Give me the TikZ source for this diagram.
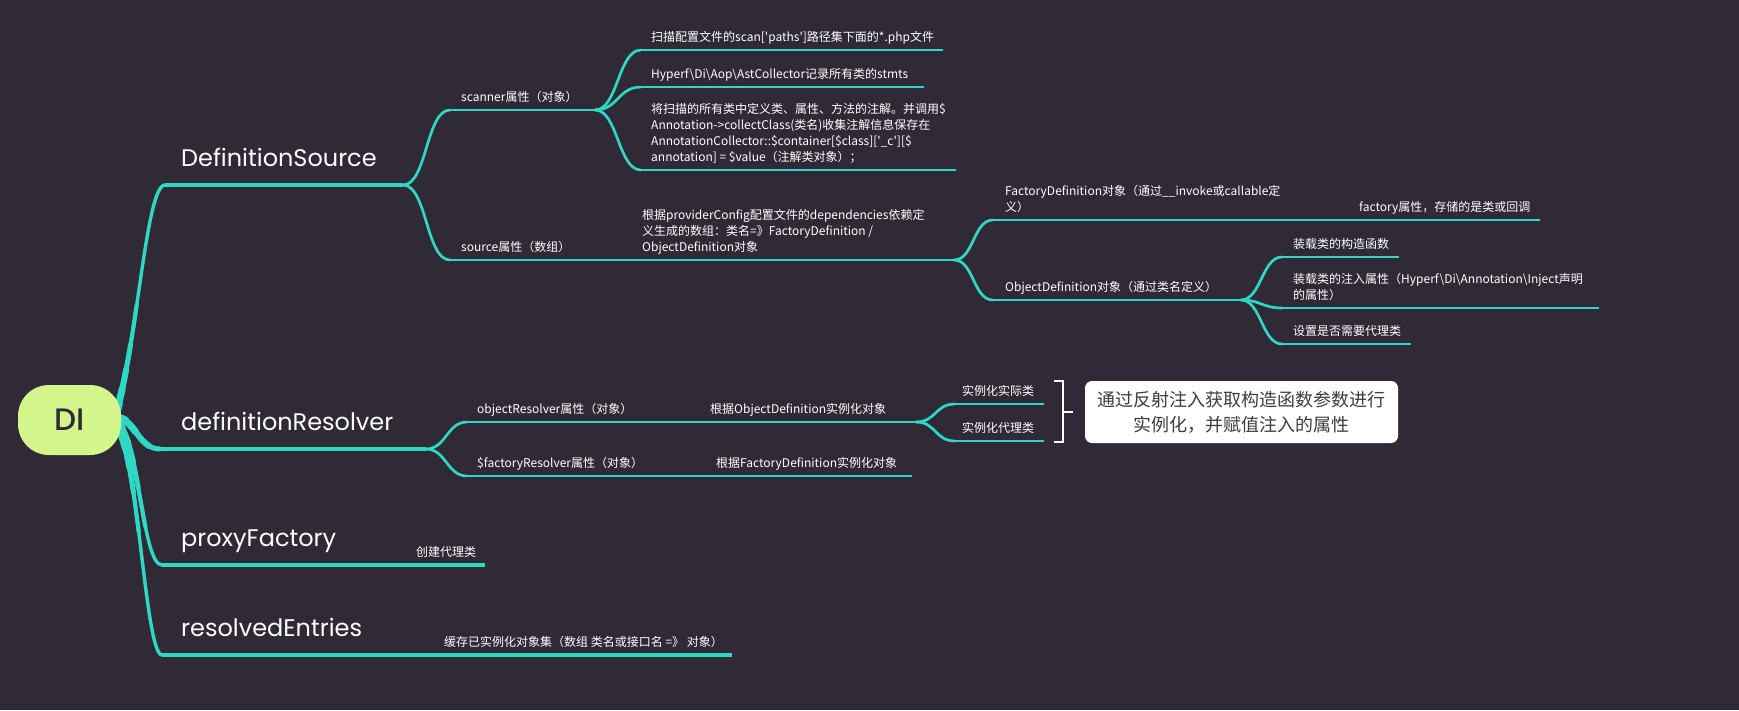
\documentclass[tikz,border=0pt]{standalone}
\usepackage{fontspec}
\newfontfamily\headfont{Poppins}
\newfontfamily\difont{Poppins Medium}
\newfontfamily\cjk{Noto Sans CJK SC}
\definecolor{bg}{HTML}{2F2A36}
\definecolor{teal}{HTML}{2ED8C4}
\definecolor{lime}{HTML}{D3F58B}
\definecolor{notetext}{HTML}{3C3C3C}
\newcommand{\bs}{\textbackslash{}}

\begin{document}
\begin{tikzpicture}[x=1pt,y=-1pt,
  lv1/.style={font=\headfont\fontsize{24}{28}\selectfont, text=white, anchor=base west, inner sep=0pt},
  lbl/.style={font=\cjk\fontsize{12}{16}\selectfont, text=white, anchor=south west, inner sep=0pt, align=left, text depth=2pt},
  rootbranch/.style={draw=teal, line width=3.4, line cap=round,
    postaction={draw=teal, line width=4.2, dash pattern=on 110 off 4000},
    postaction={draw=teal, line width=5, dash pattern=on 70 off 4000},
    postaction={draw=teal, line width=6, dash pattern=on 45 off 4000},
    postaction={draw=teal, line width=7, dash pattern=on 25 off 4000},
    postaction={draw=teal, line width=8.5, dash pattern=on 10 off 4000}},
  trunk/.style={draw=teal, line width=3.3},
  twig/.style={draw=teal, line width=2.7},
  fork/.style={draw=teal, line width=2.7},
]
% canvas
\fill[bg] (0,0) rectangle (1739,710);

% ---------- coordinates of the branch lines ----------
\coordinate (r1) at (116,413);
\coordinate (r2) at (116,418);
\coordinate (r3) at (116,422);
\coordinate (r4) at (116,425);

\coordinate (ds0) at (165,185);  \coordinate (ds1) at (403,185);
\coordinate (dr0) at (160,449);  \coordinate (dr1) at (426,449);
\coordinate (pf0) at (162,565);  \coordinate (pf1) at (405,565);
\coordinate (re0) at (162,655);  \coordinate (re1) at (435,655);

\coordinate (sc0) at (450,110);  \coordinate (sc1) at (595,110);
\coordinate (sa0) at (641,50);   \coordinate (sa1) at (943,50);
\coordinate (sb0) at (641,87);   \coordinate (sb1) at (924,87);
\coordinate (sx0) at (641,170);  \coordinate (sx1) at (956,170);

\coordinate (so0) at (450,260);  \coordinate (so1) at (630,260);
\coordinate (sd1) at (954,260);
\coordinate (fd0) at (993,220);  \coordinate (fd1) at (1345,220);
\coordinate (fa1) at (1540,220);
\coordinate (od0) at (993,300);  \coordinate (od1) at (1241,300);
\coordinate (oa0) at (1282,257); \coordinate (oa1) at (1399,257);
\coordinate (ob0) at (1282,308); \coordinate (ob1) at (1599,308);
\coordinate (oc0) at (1282,344); \coordinate (oc1) at (1411,344);

\coordinate (or0) at (467,422);  \coordinate (or1) at (648,422);
\coordinate (oi1) at (916,422);
\coordinate (ia0) at (955,404);  \coordinate (ia1) at (1044,404);
\coordinate (ib0) at (955,441);  \coordinate (ib1) at (1044,441);
\coordinate (fr0) at (467,476);  \coordinate (fr1) at (650,476);
\coordinate (fi1) at (912,476);

\coordinate (pc1) at (485,565);
\coordinate (rc1) at (732,655);

% ---------- main branches from the root ----------
\draw[rootbranch] (r1) .. controls (138,340) and (146,185) .. (ds0);
\draw[rootbranch] (r2) .. controls (135,418) and (138,449) .. (dr0);
\draw[rootbranch] (r3) .. controls (140,440) and (142,565) .. (pf0);
\draw[rootbranch] (r4) .. controls (138,450) and (145,655) .. (re0);

\draw[trunk] (ds0) -- (ds1);
\draw[trunk] (dr0) -- (dr1);
\draw[trunk] (pf0) -- (pf1);
\draw[trunk] (re0) -- (re1);

% ---------- DefinitionSource ----------
\draw[fork] (ds1) .. controls +(24,0) and +(-24,0) .. (sc0);
\draw[fork] (ds1) .. controls +(24,0) and +(-24,0) .. (so0);
\draw[twig] (sc0) -- (sc1);
\draw[fork] (sc1) .. controls +(23,0) and +(-23,0) .. (sa0);
\draw[fork] (sc1) .. controls +(23,0) and +(-23,0) .. (sb0);
\draw[fork] (sc1) .. controls +(23,0) and +(-23,0) .. (sx0);
\draw[twig] (sa0) -- (sa1);
\draw[twig] (sb0) -- (sb1);
\draw[twig] (sx0) -- (sx1);

\draw[twig] (so0) -- (so1);
\draw[twig] (so1) -- (sd1);
\draw[fork] (sd1) .. controls +(20,0) and +(-20,0) .. (fd0);
\draw[fork] (sd1) .. controls +(20,0) and +(-20,0) .. (od0);
\draw[twig] (fd0) -- (fd1);
\draw[twig] (fd1) -- (fa1);
\draw[twig] (od0) -- (od1);
\draw[fork] (od1) .. controls +(20,0) and +(-20,0) .. (oa0);
\draw[fork] (od1) .. controls +(20,0) and +(-20,0) .. (ob0);
\draw[fork] (od1) .. controls +(20,0) and +(-20,0) .. (oc0);
\draw[twig] (oa0) -- (oa1);
\draw[twig] (ob0) -- (ob1);
\draw[twig] (oc0) -- (oc1);

% ---------- definitionResolver ----------
\draw[fork] (dr1) .. controls +(20,0) and +(-20,0) .. (or0);
\draw[fork] (dr1) .. controls +(20,0) and +(-20,0) .. (fr0);
\draw[twig] (or0) -- (or1);
\draw[twig] (or1) -- (oi1);
\draw[fork] (oi1) .. controls +(20,0) and +(-20,0) .. (ia0);
\draw[fork] (oi1) .. controls +(20,0) and +(-20,0) .. (ib0);
\draw[twig] (ia0) -- (ia1);
\draw[twig] (ib0) -- (ib1);
\draw[twig] (fr0) -- (fr1);
\draw[twig] (fr1) -- (fi1);

% ---------- proxyFactory / resolvedEntries ----------
\draw[trunk] (pf1) -- (pc1);
\draw[trunk] (re1) -- (rc1);

% ---------- root node ----------
\node[fill=lime, rounded corners=31pt, minimum width=103pt, minimum height=70pt,
      font=\difont\fontsize{31}{34}\selectfont, text=bg] (di) at (69.5,420) {DI};

% ---------- first level labels ----------
\node[lv1] (ds) at (181,166) {DefinitionSource};
\node[lv1] (dr) at (181,430) {definitionResolver};
\node[lv1] (pf) at (181,546) {proxyFactory};
\node[lv1] (re) at (181,636) {resolvedEntries};

% ---------- labels ----------
\node[lbl] (scanner) at (461,103.5) {scanner属性（对象）};
\node[lbl] (scana) at (651,43.5) {扫描配置文件的scan['paths']路径集下面的*.php文件};
\node[lbl] (scanb) at (651,80.5) {Hyperf\bs Di\bs Aop\bs AstCollector记录所有类的stmts};
\node[lbl] (scanc) at (651,163.5) {将扫描的所有类中定义类、属性、方法的注解。并调用\$\\
Annotation->collectClass(类名)收集注解信息保存在\\
AnnotationCollector::\$container[\$class]['\_c'][\$\\
annotation] = \$value（注解类对象）；};

\node[lbl] (source) at (461,253.5) {source属性（数组）};
\node[lbl] (srcdesc) at (642,253.5) {根据providerConfig配置文件的dependencies依赖定\\
义生成的数组：类名=》FactoryDefinition /\\
ObjectDefinition对象};
\node[lbl] (factdef) at (1005,213.5) {FactoryDefinition对象（通过\_\_invoke或callable定\\义）};
\node[lbl] (factprop) at (1359,213.5) {factory属性，存储的是类或回调};
\node[lbl] (objdef) at (1005,293.5) {ObjectDefinition对象（通过类名定义）};
\node[lbl] (ctor) at (1293,250.5) {装载类的构造函数};
\node[lbl] (inject) at (1293,301.5) {装载类的注入属性（Hyperf\bs Di\bs Annotation\bs Inject声明\\的属性）};
\node[lbl] (proxyset) at (1293,337.5) {设置是否需要代理类};

\node[lbl] (objres) at (477,415.5) {objectResolver属性（对象）};
\node[lbl] (objinst) at (710,415.5) {根据ObjectDefinition实例化对象};
\node[lbl] (real) at (962,397.5) {实例化实际类};
\node[lbl] (proxy) at (962,434.5) {实例化代理类};
\node[lbl] (factres) at (477,469.5) {\$factoryResolver属性（对象）};
\node[lbl] (factinst) at (716,469.5) {根据FactoryDefinition实例化对象};

\node[lbl] (mkproxy) at (416,558.5) {创建代理类};
\node[lbl] (cache) at (444,648.5) {缓存已实例化对象集（数组 类名或接口名 =》 对象）};

% ---------- summary bracket and note ----------
\node[fill=white, rounded corners=7pt, minimum width=313pt, minimum height=62pt,
      inner sep=0pt, align=center, text=notetext,
      font=\cjk\fontsize{18}{25}\selectfont] (note) at (1241.5,412)
      {通过反射注入获取构造函数参数进行\\实例化，并赋值注入的属性};
\coordinate (bt) at (1063,381);
\coordinate (bb) at (1063,442);
\coordinate (bm) at (1063,412);
\draw[white, line width=1.6] ([xshift=-9pt]bt) -- (bt) -- (bb) -- ([xshift=-9pt]bb);
\draw[white, line width=1.6] (bm) -- ([xshift=10pt]bm);
\end{tikzpicture}
\end{document}
